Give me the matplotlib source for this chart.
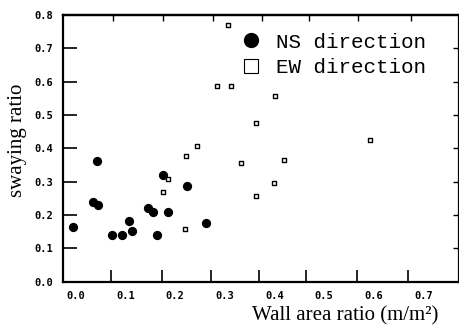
import matplotlib.pyplot as plt
from matplotlib.lines import Line2D

# NS direction (filled circles)
ns_wall = [-0.007, 0.035, 0.043, 0.045, 0.073, 0.093, 0.106, 0.112,
           0.145, 0.155, 0.163, 0.175, 0.185, 0.224, 0.263]
ns_sway = [0.163, 0.240, 0.361, 0.230, 0.139, 0.139, 0.181, 0.151,
           0.221, 0.209, 0.139, 0.321, 0.208, 0.288, 0.177]

# EW direction (open squares)
ew_wall = [0.175, 0.185, 0.222, 0.220, 0.243, 0.284, 0.306, 0.3125,
           0.401, 0.363, 0.592, 0.333, 0.419, 0.399, 0.363]
ew_sway = [0.268, 0.309, 0.378, 0.158, 0.407, 0.588, 0.769, 0.588,
           0.557, 0.477, 0.425, 0.357, 0.366, 0.295, 0.256]

x_labels = ["0.0", "0.1", "0.2", "0.3", "0.4", "0.5", "0.6", "0.7"]
y_labels = ["0.0", "0.1", "0.2", "0.3", "0.4", "0.5", "0.6", "0.7", "0.8"]
x_label_pos = [0.0, 0.1, 0.2, 0.3, 0.4, 0.5, 0.6, 0.7]
y_label_pos = [0.0, 0.1, 0.2, 0.3, 0.4, 0.5, 0.6, 0.7, 0.8]
# the scanned tick marks sit off the labels
x_mark_pos = [0.07, 0.173, 0.272, 0.369, 0.464, 0.566, 0.669]

fig = plt.figure(figsize=(4.59, 3.30), dpi=100)
ax = fig.add_axes([63 / 459, 1 - 281.7 / 330, 396 / 459, (281.7 - 15) / 330])

ax.scatter(ns_wall, ns_sway, s=32, c="black", marker="o", zorder=3)
ax.scatter(ew_wall, ew_sway, s=11, facecolors="white", edgecolors="black",
           marker="s", linewidths=1.0, zorder=3)

ax.set_xlim(-0.0262, 0.772)
ax.set_ylim(0, 0.8)

tick_font = dict(family="DejaVu Sans Mono", size=7.5, weight="bold")
ax.set_xticks(x_label_pos, x_labels, **tick_font)
ax.set_yticks(y_label_pos, y_labels, **tick_font)
ax.set_xticks(x_mark_pos, minor=True)
ax.tick_params(axis="x", which="major", length=0, pad=7)
ax.tick_params(axis="x", which="minor", direction="in", length=9, width=1.2,
               bottom=True, top=False)
ax.tick_params(axis="y", which="major", direction="in", length=10, width=1.2, pad=7)

top = ax.secondary_xaxis("top")
top.set_xticks([0.075, 0.176, 0.277, 0.374, 0.469, 0.569, 0.676], [""] * 7)
top.tick_params(direction="in", length=4, width=1)
right = ax.secondary_yaxis("right")
right.set_yticks([0.1, 0.2, 0.3, 0.4, 0.5, 0.6, 0.7], [""] * 7)
right.tick_params(direction="in", length=4, width=1)

for sp in ax.spines.values():
    sp.set_linewidth(1.6)
top.spines["top"].set_linewidth(1.6)
right.spines["right"].set_linewidth(0)

fig.text(18 / 459, 1 - 140 / 330, "swaying ratio", rotation=90,
         ha="center", va="center", family="Liberation Serif", size=15)
fig.text(345 / 459, 1 - 316 / 330, "Wall area ratio (m/m²)",
         ha="center", va="center", family="Liberation Serif", size=15)

handles = [
    Line2D([], [], ls="none", marker="o", ms=10, color="black"),
    Line2D([], [], ls="none", marker="s", ms=10, mfc="white", mec="black", mew=0.8),
]
ax.legend(handles, ["NS direction", "EW direction"], loc="upper left",
          bbox_to_anchor=(0.40, 0.965), frameon=False, handletextpad=0.2,
          labelspacing=0.3, borderaxespad=0,
          prop=dict(family="Liberation Mono", size=15))

fig.savefig("out.png", dpi=100)
